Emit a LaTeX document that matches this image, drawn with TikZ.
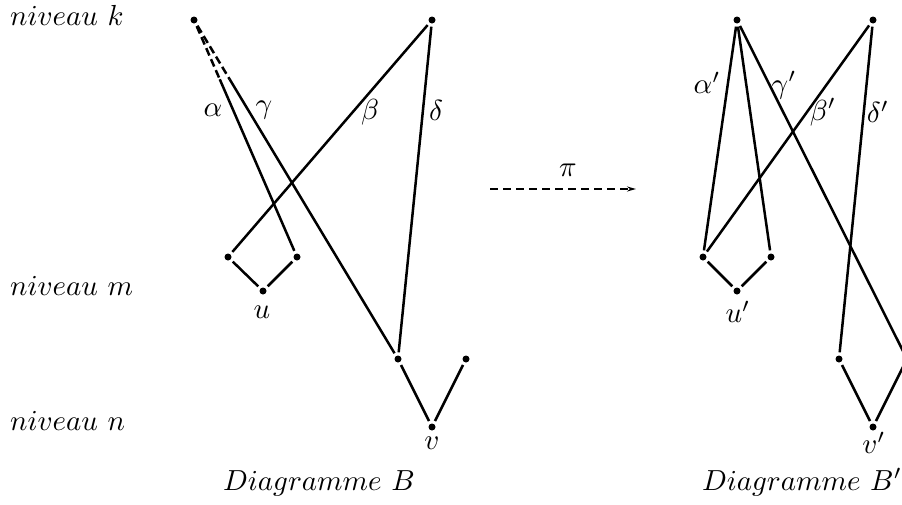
\documentclass[tikz,border=0pt]{standalone}
\usepackage{graphicx}
\usetikzlibrary{calc,arrows.meta}
\newcommand{\lbltext}[1]{\scalebox{2.9}{$#1$}}
\tikzset{
  dot/.style={circle,fill=black,inner sep=0pt,minimum size=7pt},
  edge/.style={line width=2.5pt,shorten <=3pt,shorten >=3pt},
  dashseg/.style={line width=2.5pt,dash pattern=on 8pt off 4pt},
  lbl/.style={inner sep=0pt},
}
\begin{document}
\begin{tikzpicture}[x=1pt,y=-1pt]
\useasboundingbox (0,0) rectangle (902,504);
% level labels
\node[lbl,anchor=base west] (nk) at (10,25) {\lbltext{niveau\ k}};
\node[lbl,anchor=base west] (nm) at (10,295) {\lbltext{niveau\ m}};
\node[lbl,anchor=base west] (nn) at (10,430) {\lbltext{niveau\ n}};
% ---- Diagram B ----
\node[dot] (k1) at (194,20) {};
\node[dot] (k2) at (432,20) {};
\node[dot] (ul) at (228,257) {};
\node[dot] (ur) at (297,257) {};
\node[dot] (u) at (263,291) {};
\node[dot] (vl) at (398,359) {};
\node[dot] (vr) at (466,359) {};
\node[dot] (v) at (432,427) {};
\coordinate (am) at ($(k1)!0.25!(ur)$);
\coordinate (gm) at ($(k1)!0.175!(vl)$);
\draw[dashseg,shorten <=3pt] (k1) -- (am);
\draw[edge,shorten <=0pt] (am) -- (ur);
\draw[dashseg,shorten <=3pt] (k1) -- (gm);
\draw[edge,shorten <=0pt] (gm) -- (vl);
\draw[edge] (k2) -- (ul);
\draw[edge] (k2) -- (vl);
\draw[edge] (ul) -- (u);
\draw[edge] (ur) -- (u);
\draw[edge] (vl) -- (v);
\draw[edge] (vr) -- (v);
\node[lbl] (la) at (213,110) {\lbltext{\alpha}};
\node[lbl] (lg) at (264,110) {\lbltext{\gamma}};
\node[lbl] (lb) at (370,112) {\lbltext{\beta}};
\node[lbl] (ld) at (436,110) {\lbltext{\delta}};
\node[lbl] (lu) at (262,312) {\lbltext{u}};
\node[lbl] (lv) at (432,443) {\lbltext{v}};
\node[lbl,anchor=base] (dB) at (319,490) {\lbltext{Diagramme\ B}};
% ---- arrow pi ----
\coordinate (p1) at (490,189);
\coordinate (p2) at (636,189);
\draw[line width=1.6pt,dash pattern=on 8pt off 5pt,-{Stealth[length=9pt,width=5pt]}] (p1) -- (p2);
\node[lbl] (pi) at (568,170) {\lbltext{\pi}};
% ---- Diagram B' ----
\node[dot] (k1p) at (737,20) {};
\node[dot] (k2p) at (873,20) {};
\node[dot] (ulp) at (703,257) {};
\node[dot] (urp) at (771,257) {};
\node[dot] (up) at (737,291) {};
\node[dot] (vlp) at (839,359) {};
\node[dot] (vrp) at (907,359) {};
\node[dot] (vp) at (873,427) {};
\draw[edge] (k1p) -- (ulp);
\draw[edge] (k1p) -- (urp);
\draw[edge] (k1p) -- (vrp);
\draw[edge] (k2p) -- (ulp);
\draw[edge] (k2p) -- (vlp);
\draw[edge] (ulp) -- (up);
\draw[edge] (urp) -- (up);
\draw[edge] (vlp) -- (vp);
\draw[edge] (vrp) -- (vp);
\node[lbl] (lap) at (707,83) {\lbltext{\alpha'}};
\node[lbl] (lgp) at (784,85) {\lbltext{\gamma'}};
\node[lbl] (lbp) at (823,112) {\lbltext{\beta'}};
\node[lbl] (ldp) at (878,112) {\lbltext{\delta'}};
\node[lbl] (lup) at (738,312) {\lbltext{u'}};
\node[lbl] (lvp) at (874,443) {\lbltext{v'}};
\node[lbl,anchor=base] (dBp) at (802,490) {\lbltext{Diagramme\ B'}};
\end{tikzpicture}
\end{document}
